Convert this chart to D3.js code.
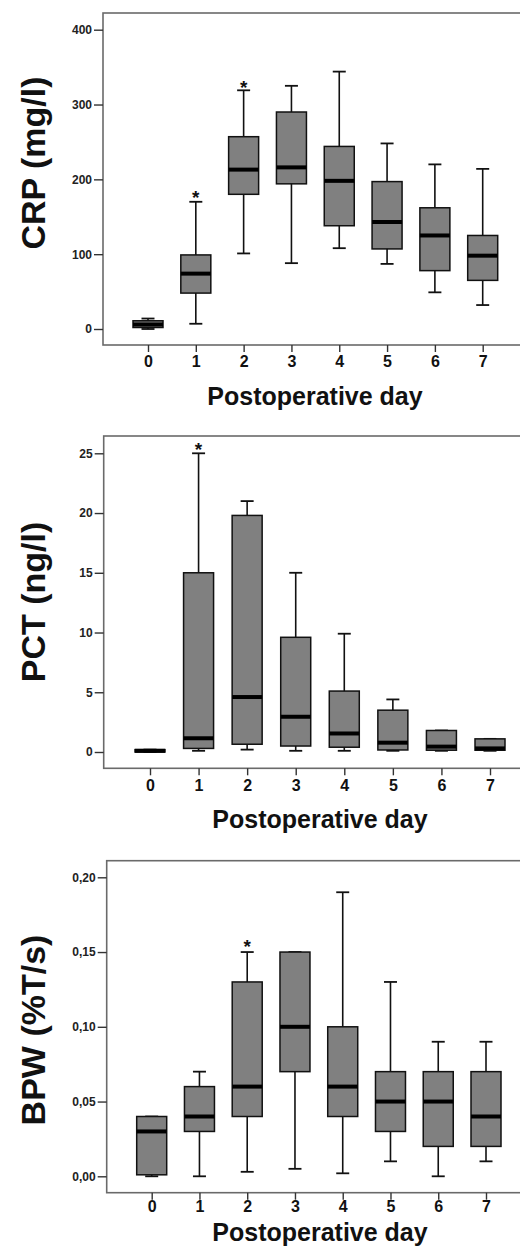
<!DOCTYPE html>
<html>
<head>
<meta charset="utf-8">
<script src="https://cdn.jsdelivr.net/npm/d3@7"></script>
<style>
  body { margin: 0; background: #fff; }
  svg { display: block; }
</style>
</head>
<body>
<div id="chart"></div>
<script>
        // Postoperative days (categories)
        var days = ["0", "1", "2", "3", "4", "5", "6", "7"];

        // CRP (mg/l) box plot values
        var crpMin    = [0, 7, 101, 88, 108, 87, 49, 32];
        var crpQ1     = [2, 48, 180, 194, 138, 107, 78, 65];
        var crpMedian = [6, 74, 213, 216, 198, 143, 125, 98];
        var crpQ3     = [11, 99, 257, 290, 244, 197, 162, 125];
        var crpMax    = [14, 170, 319, 325, 344, 248, 220, 214];
        var crpStarDays   = ["1", "2"];
        var crpStarValues = [181, 327];
        var crpTicks = [0, 100, 200, 300, 400];

        // PCT (ng/l) box plot values
        var pctMin    = [0, 0.1, 0.2, 0.1, 0.1, 0.1, 0.1, 0.1];
        var pctQ1     = [0, 0.3, 0.65, 0.5, 0.4, 0.17, 0.15, 0.15];
        var pctMedian = [0.1, 1.15, 4.6, 2.95, 1.55, 0.78, 0.45, 0.3];
        var pctQ3     = [0.2, 15, 19.8, 9.6, 5.1, 3.5, 1.8, 1.1];
        var pctMax    = [0.2, 25, 21, 15, 9.9, 4.4, 1.8, 1.1];
        var pctStarDays   = ["1"];
        var pctStarValues = [25.6];
        var pctTicks = [0, 5, 10, 15, 20, 25];

        // BPW (%T/s) box plot values
        var bpwMin    = [0, 0, 0.003, 0.005, 0.002, 0.01, 0, 0.01];
        var bpwQ1     = [0.001, 0.03, 0.04, 0.07, 0.04, 0.03, 0.02, 0.02];
        var bpwMedian = [0.03, 0.04, 0.06, 0.10, 0.06, 0.05, 0.05, 0.04];
        var bpwQ3     = [0.04, 0.06, 0.13, 0.15, 0.10, 0.07, 0.07, 0.07];
        var bpwMax    = [0.04, 0.07, 0.15, 0.15, 0.19, 0.13, 0.09, 0.09];
        var bpwStarDays   = ["2"];
        var bpwStarValues = [0.156];
        var bpwTicks = [0, 0.05, 0.10, 0.15, 0.20];

        var w = 520;
        var h = 1249;

        var svg = d3.select("#chart")
                    .append("svg")
                    .attr("width", w)
                    .attr("height", h);

        var font = "Liberation Sans, Arial, sans-serif";
        var commaFmt = function(d) { return d3.format(".2f")(d).replace(".", ","); };

        function drawPanel(p) {
            var g = svg.append("g");

            var yScale = d3.scaleLinear()
                           .domain([p.ticks[0], p.ticks[p.ticks.length - 1]])
                           .range([p.zeroY, p.topTickY]);

            var xScale = d3.scalePoint()
                           .domain(days)
                           .range([p.firstX, p.lastX]);

            var boxW = 30, capW = 13;

            var rows = days.map(function(d, i) {
                return {day: d, min: p.min[i], q1: p.q1[i], med: p.med[i], q3: p.q3[i], max: p.max[i]};
            });

            // frame
            g.append("rect")
             .attr("x", p.left)
             .attr("y", p.frameTop)
             .attr("width", w + 10 - p.left)
             .attr("height", p.frameBottom - p.frameTop)
             .attr("fill", "none")
             .attr("stroke", "#6a6a6a")
             .attr("stroke-width", 1.6);

            // y axis
            var y_axis = d3.axisLeft(yScale)
                           .tickValues(p.ticks)
                           .tickSize(9)
                           .tickPadding(2)
                           .tickFormat(p.fmt);
            var ya = g.append("g")
                      .attr("transform", "translate(" + p.left + ",0)")
                      .call(y_axis);
            ya.select(".domain").remove();
            ya.selectAll("line").attr("stroke", "#333").attr("stroke-width", 1.4);
            ya.selectAll("text")
              .attr("font-family", font)
              .attr("font-size", "12px")
              .attr("font-weight", "bold")
              .attr("fill", "#222");

            // x axis
            var x_axis = d3.axisBottom(xScale)
                           .tickSize(7)
                           .tickPadding(p.xPad);
            var xa = g.append("g")
                      .attr("transform", "translate(0," + p.frameBottom + ")")
                      .call(x_axis);
            xa.select(".domain").remove();
            xa.selectAll("line").attr("stroke", "#333").attr("stroke-width", 1.4);
            xa.selectAll("text")
              .attr("font-family", font)
              .attr("font-size", "16px")
              .attr("font-weight", "bold")
              .attr("fill", "#111");

            // whiskers
            g.selectAll(".whisker")
             .data(rows)
             .enter()
             .append("line")
             .attr("x1", function(d) { return xScale(d.day); })
             .attr("x2", function(d) { return xScale(d.day); })
             .attr("y1", function(d) { return yScale(d.min); })
             .attr("y2", function(d) { return yScale(d.max); })
             .attr("stroke", "#111")
             .attr("stroke-width", 1.6);

            // caps
            ["min", "max"].forEach(function(k) {
                g.selectAll(".cap-" + k)
                 .data(rows)
                 .enter()
                 .append("line")
                 .attr("x1", function(d) { return xScale(d.day) - capW / 2; })
                 .attr("x2", function(d) { return xScale(d.day) + capW / 2; })
                 .attr("y1", function(d) { return yScale(d[k]); })
                 .attr("y2", function(d) { return yScale(d[k]); })
                 .attr("stroke", "#111")
                 .attr("stroke-width", 1.8);
            });

            // boxes
            g.selectAll(".box")
             .data(rows)
             .enter()
             .append("rect")
             .attr("x", function(d) { return xScale(d.day) - boxW / 2; })
             .attr("y", function(d) { return yScale(d.q3); })
             .attr("width", boxW)
             .attr("height", function(d) { return Math.max(0, yScale(d.q1) - yScale(d.q3)); })
             .attr("fill", "#808080")
             .attr("stroke", "#111")
             .attr("stroke-width", 1.5);

            // medians
            g.selectAll(".median")
             .data(rows)
             .enter()
             .append("line")
             .attr("x1", function(d) { return xScale(d.day) - boxW / 2; })
             .attr("x2", function(d) { return xScale(d.day) + boxW / 2; })
             .attr("y1", function(d) { return yScale(d.med); })
             .attr("y2", function(d) { return yScale(d.med); })
             .attr("stroke", "#000")
             .attr("stroke-width", 4);

            // extreme values (asterisks)
            g.selectAll(".star")
             .data(p.starDays)
             .enter()
             .append("text")
             .text("*")
             .attr("text-anchor", "middle")
             .attr("x", function(d) { return xScale(d); })
             .attr("y", function(d, i) { return yScale(p.starValues[i]) + 10; })
             .attr("font-family", font)
             .attr("font-size", "19px")
             .attr("font-weight", "bold")
             .attr("fill", "#111");

            // y axis label
            g.append("text")
             .attr("transform", "translate(" + p.yLabelX + "," + p.yLabelY + ") rotate(-90)")
             .attr("text-anchor", "middle")
             .attr("font-family", font)
             .attr("font-size", "34px")
             .attr("font-weight", "bold")
             .attr("fill", "#111")
             .text(p.yLabel);

            // x axis label
            g.append("text")
             .attr("x", p.xLabelX)
             .attr("y", p.xLabelY)
             .attr("text-anchor", "middle")
             .attr("font-family", font)
             .attr("font-size", "25px")
             .attr("font-weight", "bold")
             .attr("fill", "#111")
             .text("Postoperative day");
        }

        drawPanel({
            min: crpMin, q1: crpQ1, med: crpMedian, q3: crpQ3, max: crpMax,
            starDays: crpStarDays, starValues: crpStarValues,
            ticks: crpTicks, fmt: d3.format("d"),
            zeroY: 329, topTickY: 29.7, frameTop: 13, frameBottom: 345, left: 103,
            firstX: 148, lastX: 482.7, xPad: 4,
            yLabel: "CRP (mg/l)", yLabelX: 45, yLabelY: 163,
            xLabelX: 315, xLabelY: 405
        });

        drawPanel({
            min: pctMin, q1: pctQ1, med: pctMedian, q3: pctQ3, max: pctMax,
            starDays: pctStarDays, starValues: pctStarValues,
            ticks: pctTicks, fmt: d3.format("d"),
            zeroY: 752, topTickY: 453.3, frameTop: 436, frameBottom: 768.3, left: 103.7,
            firstX: 150, lastX: 490, xPad: 4,
            yLabel: "PCT (ng/l)", yLabelX: 45, yLabelY: 602,
            xLabelX: 320, xLabelY: 828
        });

        drawPanel({
            min: bpwMin, q1: bpwQ1, med: bpwMedian, q3: bpwQ3, max: bpwMax,
            starDays: bpwStarDays, starValues: bpwStarValues,
            ticks: bpwTicks, fmt: commaFmt,
            zeroY: 1176.3, topTickY: 877.3, frameTop: 860.7, frameBottom: 1192.7, left: 106.7,
            firstX: 151.7, lastX: 486, xPad: 1,
            yLabel: "BPW (%T/s)", yLabelX: 45, yLabelY: 1030,
            xLabelX: 320, xLabelY: 1241
        });
</script>
</body>
</html>
